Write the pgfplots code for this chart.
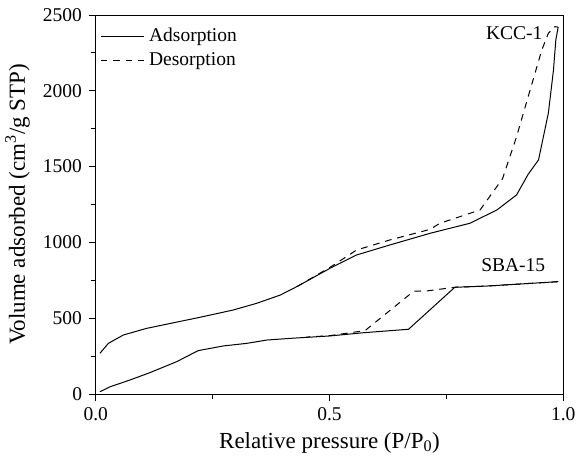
\documentclass[border=0pt]{standalone}
\usepackage{pgfplots}
\pgfplotsset{compat=1.18}
\usepackage{fontspec}
\setmainfont{Liberation Serif}
\begin{document}
\fontsize{19.5bp}{23bp}\selectfont
\begin{tikzpicture}
\begin{axis}[
  scale only axis,
  width=467.6bp, height=379bp,
  xmin=0, xmax=1, ymin=0, ymax=2500,
  xtick={0,0.5,1}, minor xtick={0.25,0.75},
  ytick={0,500,1000,1500,2000,2500}, minor ytick={250,750,1250,1750,2250},
  xticklabels={0.0,0.5,1.0},
  scaled y ticks=false,
  yticklabel style={/pgf/number format/1000 sep={}},
  /pgf/number format/assume math mode=true,
  tick align=outside, tick pos=left,
  major tick length=7bp, minor tick length=5bp,
  axis line style={line width=0.8bp},
  tick style={line width=0.8bp, black},
  label style={font=\fontsize{23bp}{27bp}\selectfont},
  xlabel={Relative pressure (P/P\textsubscript{0})},
  ylabel={Volume adsorbed (cm\textsuperscript{3}/g STP)},
  xlabel style={yshift=2bp},
  legend style={draw=none, fill=none, at={(axis cs:0.009,2430)}, anchor=north west, row sep=4bp, inner sep=0pt, cells={anchor=west}},
  legend image code/.code={\draw[#1] (0bp,0bp) -- (43bp,0bp);},
  legend cell align=left,
]
\addplot[black, line width=1bp] coordinates {
(0.009,268) (0.027,334) (0.059,389) (0.109,433) (0.223,506) (0.294,554) (0.344,598) (0.395,653) (0.430,708) (0.501,829) (0.558,917) (0.629,983) (0.715,1060) (0.800,1126) (0.858,1214) (0.900,1313) (0.925,1450) (0.947,1544) (0.968,1852) (0.979,2137) (0.984,2335) (0.989,2420)
};
\addlegendentry{\hspace{3bp}Adsorption}
\addplot[black, line width=1bp, dash pattern=on 6.7bp off 5.8bp] coordinates {
(0.430,708) (0.501,835) (0.558,950) (0.629,1016) (0.715,1086) (0.736,1126) (0.822,1214) (0.870,1420) (0.900,1697) (0.929,2005) (0.954,2269) (0.968,2379) (0.982,2423) (0.989,2420)
};
\addlegendentry{\hspace{3bp}Desorption}
\addplot[black, line width=1bp, forget plot] coordinates {
(0.009,15) (0.031,48) (0.073,92) (0.116,141) (0.173,213) (0.219,286) (0.273,317) (0.323,334) (0.366,356) (0.416,367) (0.501,383) (0.572,404) (0.669,427) (0.768,704) (0.836,712) (0.989,741)
};
\addplot[black, line width=1bp, dash pattern=on 6.7bp off 5.8bp, forget plot] coordinates {
(0.989,741) (0.836,712) (0.768,704) (0.711,681) (0.680,678) (0.576,418) (0.501,385) (0.450,375)
};
\node at (axis cs:0.895,2381) {KCC-1};
\node at (axis cs:0.893,851) {SBA-15};
\end{axis}
\pgfresetboundingbox
\path ([shift={(-95.7bp,-64bp)}]current axis.south west) rectangle ([shift={(16.7bp,15bp)}]current axis.north east);
\end{tikzpicture}
\end{document}
